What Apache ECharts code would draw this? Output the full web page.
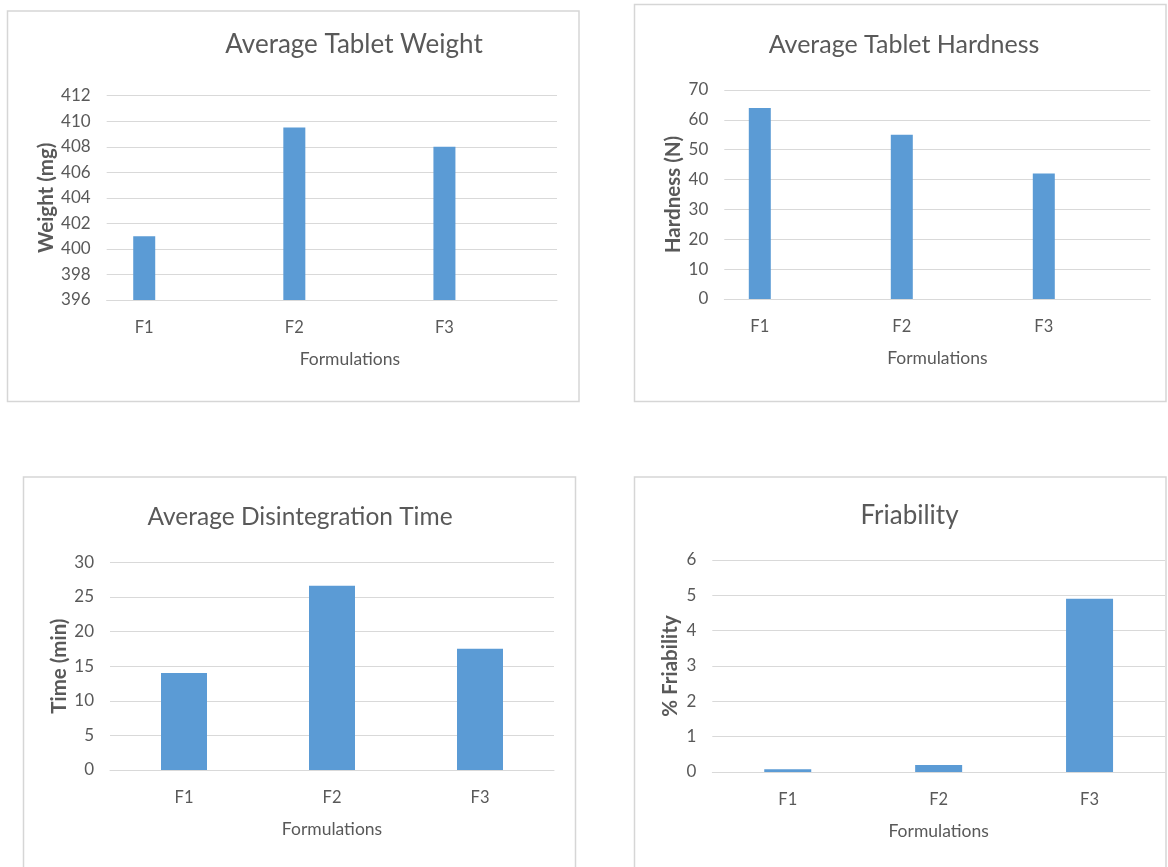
<!DOCTYPE html>
<html>
<head>
<meta charset="utf-8">
<title>Tablet evaluation</title>
<script src="https://cdn.jsdelivr.net/npm/echarts@6/dist/echarts.min.js"></script>
<style>
  html, body { margin: 0; padding: 0; background: #ffffff; }
  #chart { width: 1168px; height: 867px; }
</style>
</head>
<body>
<div id="chart"></div>
<script>
// Formulations and their measured properties
const categories = ['F1', 'F2', 'F3'];
const weightMg = [401, 409.5, 408];
const hardnessN = [64, 55, 42];
const disintegrationMin = [14, 26.6, 17.5];
const friabilityPct = [0.08, 0.2, 4.9];

// Value-axis ticks: [min, max, step]
const weightTicks = [396, 412, 2];
const hardnessTicks = [0, 70, 10];
const timeTicks = [0, 30, 5];
const friabilityTicks = [0, 6, 1];

const chartTitles = ['Average Tablet Weight', 'Average Tablet Hardness', 'Average Disintegration Time', 'Friability'];
const yNames = ['Weight (mg)', 'Hardness (N)', 'Time (min)', '% Friability'];
const xName = 'Formulations';

const TEXT = '#595959';
const GRID_LINE = '#d9d9d9';
const BAR = '#5b9bd5';
const FONT = 'Lato, "Open Sans", sans-serif';

// One panel per measured property
const panels = [
  { values: weightMg, ticks: weightTicks,
    grid: { left: 106.7, top: 95.7, width: 450.3, height: 204.3 },
    titleAt: [354, 45], titleSize: 26, span: [0.75, 3.75], barWidth: 22, yGap: 50, xShift: 36,
    frame: [7.5, 11, 571.5, 390.5] },
  { values: hardnessN, ticks: hardnessTicks,
    grid: { left: 724.3, top: 90, width: 426, height: 209 },
    titleAt: [904, 45], titleSize: 25, span: [0.75, 3.75], barWidth: 22, yGap: 40, xShift: 0,
    frame: [634.5, 4.5, 531.5, 397] },
  { values: disintegrationMin, ticks: timeTicks,
    grid: { left: 110, top: 562.3, width: 444, height: 207.7 },
    titleAt: [300, 517], titleSize: 24.5, span: [0.5, 3.5], barWidth: 46, yGap: 38, xShift: 0,
    frame: [23.5, 477, 552, 400] },
  { values: friabilityPct, ticks: friabilityTicks,
    grid: { left: 712.3, top: 560, width: 452.7, height: 212 },
    titleAt: [909.5, 516], titleSize: 26, span: [0.5, 3.5], barWidth: 47, yGap: 31, xShift: 0,
    frame: [634.5, 477, 531.5, 400] }
];

const categoryPositions = categories.map((c, i) => i + 1);

const option = {
  animation: false,
  backgroundColor: '#ffffff',
  textStyle: { fontFamily: FONT },
  graphic: panels.map(p => ({
    type: 'rect',
    silent: true,
    z: -10,
    shape: { x: p.frame[0], y: p.frame[1], width: p.frame[2], height: p.frame[3] },
    style: { fill: 'none', stroke: '#d6d6d6', lineWidth: 1.5 }
  })),
  title: panels.map((p, i) => ({
    text: chartTitles[i],
    left: p.titleAt[0],
    top: p.titleAt[1],
    padding: 0,
    textAlign: 'center',
    textVerticalAlign: 'middle',
    textStyle: { fontFamily: FONT, fontSize: p.titleSize, fontWeight: 'normal', color: TEXT }
  })),
  grid: panels.map(p => Object.assign({ containLabel: false }, p.grid)),
  xAxis: panels.map((p, i) => ({
    type: 'value',
    gridIndex: i,
    min: p.span[0],
    max: p.span[1],
    axisLine: { show: true, onZero: false, lineStyle: { color: GRID_LINE, width: 1 } },
    axisTick: { show: false },
    splitLine: { show: false },
    axisLabel: {
      customValues: categoryPositions,
      formatter: v => categories[Math.round(v) - 1],
      color: TEXT, fontFamily: FONT, fontSize: 16.5, margin: 19
    },
    name: xName,
    nameLocation: 'middle',
    nameGap: 50,
    nameTextStyle: {
      color: TEXT, fontFamily: FONT, fontSize: 17.5,
      padding: [0, 0, 0, p.xShift]
    }
  })),
  yAxis: panels.map((p, i) => ({
    type: 'value',
    gridIndex: i,
    min: p.ticks[0],
    max: p.ticks[1],
    interval: p.ticks[2],
    axisLine: { show: false },
    axisTick: { show: false },
    splitLine: { show: true, lineStyle: { color: GRID_LINE, width: 1 } },
    axisLabel: { color: TEXT, fontFamily: FONT, fontSize: 17, margin: 16 },
    name: yNames[i],
    nameLocation: 'middle',
    nameGap: p.yGap,
    nameTextStyle: { color: TEXT, fontFamily: FONT, fontSize: 20.5, fontWeight: 'bold' }
  })),
  series: panels.map((p, i) => ({
    type: 'bar',
    xAxisIndex: i,
    yAxisIndex: i,
    barWidth: p.barWidth,
    clip: true,
    silent: true,
    itemStyle: { color: BAR },
    data: p.values.map((v, k) => [categoryPositions[k], v])
  }))
};

const chart = echarts.init(document.getElementById('chart'), null, { renderer: 'canvas' });
chart.setOption(option);
</script>
</body>
</html>
